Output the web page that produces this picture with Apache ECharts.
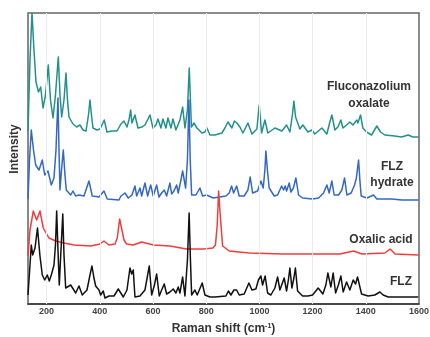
<!DOCTYPE html>
<html>
<head>
<meta charset="utf-8">
<script src="https://cdn.jsdelivr.net/npm/echarts@6/dist/echarts.min.js"></script>
<style>
  html, body { margin: 0; padding: 0; background: #fff; }
  #chart { width: 430px; height: 337px; }
</style>
</head>
<body>
<div id="chart"></div>
<script>
// Raman spectra, stacked with vertical offsets: [wavenumber (cm-1), intensity (a.u.)]
const flzOxalate = [
  [130,173],[137.5,244],[145,291],[152.5,254],[160,222],[169.5,212],[177.7,217],[186.4,196],
  [195.8,209],[206.3,239],[214.6,204],[224,186],[233.3,209],[243.9,247],[250.3,209],[256.6,187],
  [265.3,204],[272.8,231],[278.4,204],[284.1,187],[299.1,180],[313,177],[325.4,179],[336.7,174],
  [348,173],[357.4,189],[363,204],[368.6,189],[374.3,176],[389.3,174],[400.6,175],[416.7,184],
  [426.9,172],[445.7,173],[464.5,173],[479.5,180],[490.8,183],[502.1,177],[509.6,184],[516,194],
  [520.8,181],[532.1,189],[543.4,176],[558.4,177],[569.7,179],[588.5,189],[599.8,176],[611,179],
  [618.5,185],[629.8,176],[637.3,185],[648.6,176],[656.1,186],[667.4,176],[674.9,185],[686.2,174],
  [701.2,184],[711.4,197],[720,176],[729.4,194],[736.2,236],[740.7,204],[744.4,177],[753.8,181],
  [765.1,176],[772.6,178],[783.9,171],[795.2,172],[802.7,176],[814,169],[832.7,169],[859.1,171],
  [870.3,176],[881.6,182],[896.6,176],[906,183],[915.4,181],[926.7,177],[938,171],[956.8,181],
  [971.8,170],[990.6,175],[999.2,199],[1008.2,171],[1020.6,184],[1031.9,171],[1058.2,176],[1084.5,173],
  [1102.2,179],[1114.6,172],[1124,189],[1129.6,203],[1136,187],[1143.5,189],[1152.2,175],[1163.5,179],
  [1182.2,172],[1197.3,174],[1208.5,170],[1234.8,176],[1253.6,170],[1264.9,182],[1272.4,189],[1283.7,174],
  [1295,177],[1306.3,184],[1313.8,176],[1327.7,179],[1340.1,182],[1351.4,179],[1366.4,184],[1370.1,181],
  [1380.3,189],[1388.9,176],[1402.8,172],[1421.6,169],[1441.5,178],[1455.4,172],[1471.6,169],[1509.2,168],
  [1534.3,167],[1559.2,169],[1576.8,167],[1599.3,167]
];

const flzHydrate = [
  [130,105],[135.6,144],[142.4,174],[150.7,154],[158.9,139],[171.3,134],[183.7,144],[192.8,129],
  [205.2,133],[217.6,119],[227.7,126],[235.2,154],[242.7,206],[246.5,154],[250.3,114],[255.9,134],
  [262.7,154],[269,129],[273.9,114],[290.5,109],[299.1,113],[309.3,108],[321.7,109],[340.4,108],
  [359.2,123],[371.6,108],[396.8,107],[415.6,113],[428,105],[472,104],[479.5,108],[494.5,111],
  [506.9,106],[520.8,109],[532.1,118],[538.5,108],[550.9,116],[557.3,108],[569.7,121],[579.8,108],
  [591.1,119],[600.9,108],[613.7,119],[622.3,107],[632.4,111],[642.2,114],[651.2,108],[663.6,121],
  [670,110],[678.7,113],[688.8,119],[694.8,111],[705,124],[711.4,133],[722.6,116],[729.4,144],
  [735,204],[739.9,144],[745.2,109],[761.3,109],[776.4,116],[786.5,108],[801.6,109],[826.4,106],
  [874.1,108],[886.5,111],[895.5,118],[903,111],[914.3,118],[924.1,108],[942.8,108],[956.8,114],
  [965.4,127],[974.4,111],[993.2,113],[1005.6,123],[1014.3,116],[1020.6,134],[1024.4,153],[1030,134],
  [1036.8,116],[1055.6,108],[1068.4,109],[1083.4,118],[1090.9,114],[1096.9,118],[1102.2,113],[1112,121],
  [1118.4,112],[1127.7,116],[1137.1,126],[1147.3,109],[1162.3,106],[1199.9,105],[1222.5,106],[1241.2,111],
  [1253.6,119],[1262.3,111],[1272.4,123],[1281.1,109],[1297.6,109],[1310,114],[1320.2,126],[1328.8,109],
  [1345,111],[1357.7,119],[1364.5,126],[1372.8,144],[1377.7,124],[1382.6,108],[1404,106],[1429.2,109],
  [1441.5,105],[1497.9,105],[1535.5,104],[1598.2,104]
];

const oxalicAcid = [
  [130,48],[137.5,74],[149.9,93],[162.6,84],[175,93],[187.4,76],[208.8,66],[234,63],
  [265.3,61],[302.8,59],[365.6,58],[400.6,60],[415.6,63],[434.4,59],[456.9,60],[465.6,66],
  [474.6,85],[483.2,74],[490.8,64],[500.9,60],[525.7,59],[557.3,62],[600.9,59],[663.6,58],
  [726.4,55],[788.8,55],[825.2,56],[834.7,59],[841.4,79],[846.7,113],[852.7,89],[861.7,58],
  [886.5,53],[961.7,51],[1087.2,50],[1205.9,50],[1302.5,50],[1354,53],[1385.2,50],[1471.6,51],
  [1491.5,55],[1510.3,50],[1598.2,49]
];

const flz = [
  [130,9],[137.5,39],[142.4,59],[147.7,49],[156.3,56],[165.7,76],[175,48],[183.7,29],
  [192.8,24],[202.5,29],[210,23],[217.6,29],[227.7,39],[233.3,59],[237.8,93],[242.7,54],
  [247.6,19],[254,54],[260.8,90],[265.3,49],[271.7,16],[290.5,19],[296.5,21],[309.3,11],
  [321.7,18],[334.1,9],[351.8,14],[363,29],[370.5,38],[378,26],[384.4,18],[396.8,14],
  [403.1,9],[412.9,13],[419.3,6],[434.4,8],[453.2,8],[469.4,15],[488.2,7],[502.1,14],
  [513.3,36],[519.7,30],[525.7,34],[532.1,7],[550.9,8],[569.7,14],[585.9,38],[594.9,9],
  [605.4,19],[613.7,30],[623.5,8],[632.4,14],[642.2,20],[651.2,10],[663.6,12],[676,15],
  [686.2,11],[694.8,17],[701.2,11],[711.4,27],[720,8],[729.4,44],[735.8,91],[740.7,44],
  [745.2,9],[757.6,14],[766.2,9],[785,21],[795.2,9],[814,7],[832.7,7],[874.1,8],
  [883.5,13],[892.9,9],[904.1,14],[914.3,14],[924.1,9],[942.8,10],[960.5,21],[971.8,14],
  [986.8,15],[996.2,24],[1005.6,28],[1012,19],[1021.7,28],[1030.7,11],[1043.1,9],[1058.2,16],
  [1068.4,27],[1077,14],[1093.1,26],[1102.2,13],[1108.9,24],[1114.6,36],[1122.1,16],[1129.6,26],
  [1135.3,36],[1143.5,13],[1162.3,8],[1182.2,8],[1199.9,9],[1220.9,16],[1238.6,10],[1249.9,19],
  [1257.4,31],[1268.7,17],[1277.3,31],[1286.4,11],[1296.9,19],[1306.3,28],[1314.9,12],[1327.7,22],
  [1340.1,14],[1352.5,24],[1361.5,20],[1369,27],[1384,10],[1408.8,8],[1434,9],[1452.8,12],
  [1465.2,9],[1484,7],[1534.3,7],[1597.1,7]
];

const xTicks = [200, 400, 600, 800, 1000, 1200, 1400, 1600];
const seriesNames = ['Fluconazolium oxalate', 'FLZ hydrate', 'Oxalic acid', 'FLZ'];
const seriesLabels = ['Fluconazolium\noxalate', 'FLZ\nhydrate', 'Oxalic acid', 'FLZ'];
const seriesColors = ['#23918b', '#3468c4', '#f23c3c', '#111111'];

const chart = echarts.init(document.getElementById('chart'), null, { renderer: 'canvas' });

const FONT = 'Liberation Sans, Arial, sans-serif';
const labelFont = { fontFamily: FONT, fontWeight: 'bold', fontSize: 12, fill: '#333' };

// light vertical grid lines at the labelled wavenumbers
const gridSeries = {
  type: 'line',
  data: [],
  silent: true,
  z: 1,
  markLine: {
    silent: true,
    symbol: 'none',
    label: { show: false },
    lineStyle: { color: '#ececec', width: 1, type: 'solid' },
    data: xTicks.filter(v => v < 1600).map(v => ({ xAxis: v }))
  }
};

const spectra = [flzOxalate, flzHydrate, oxalicAcid, flz].map((d, i) => ({
  name: seriesNames[i],
  type: 'line',
  data: d,
  showSymbol: false,
  clip: true,
  lineStyle: { color: seriesColors[i], width: 1.5, join: 'round' },
  z: 2 + i
}));

chart.setOption({
  animation: false,
  backgroundColor: '#fff',
  grid: {
    left: 28, right: 11, top: 13, bottom: 33,
    outerBoundsMode: 'none',
    containLabel: false,
    show: true, borderColor: '#666', borderWidth: 1.5, backgroundColor: 'transparent'
  },
  xAxis: {
    type: 'value',
    min: 130, max: 1600,
    name: '{a|Raman shift (cm}{s|-1}{a|)}',
    nameLocation: 'middle',
    nameGap: 19,
    nameTextStyle: {
      rich: {
        a: { fontFamily: FONT, fontWeight: 'bold', fontSize: 12, color: '#333' },
        s: { fontFamily: FONT, fontWeight: 'bold', fontSize: 7, color: '#333', verticalAlign: 'top', lineHeight: 9 }
      }
    },
    axisLine: { show: true, lineStyle: { color: '#333', width: 1.5 } },
    axisTick: { show: false, customValues: xTicks },
    axisLabel: {
      customValues: xTicks,
      formatter: v => String(v),
      margin: 3,
      fontFamily: FONT,
      fontWeight: 'bold', fontSize: 9, color: '#444'
    },
    splitLine: { show: false }
  },
  yAxis: {
    type: 'value',
    min: 0, max: 291,
    axisLine: { show: true, lineStyle: { color: '#888', width: 1.5 } },
    axisTick: { show: false },
    axisLabel: { show: false },
    splitLine: { show: false }
  },
  series: [gridSeries].concat(spectra),
  graphic: [
    { type: 'text', x: 15, y: 149, rotation: Math.PI / 2, z: 10, style: Object.assign({ text: 'Intensity', align: 'center', verticalAlign: 'middle' }, labelFont) },
    { type: 'text', x: 369, y: 95.5, z: 10, style: Object.assign({ text: seriesLabels[0], align: 'center', verticalAlign: 'middle', lineHeight: 17 }, labelFont) },
    { type: 'text', x: 392, y: 175, z: 10, style: Object.assign({ text: seriesLabels[1], align: 'center', verticalAlign: 'middle', lineHeight: 16 }, labelFont) },
    { type: 'text', x: 381, y: 240, z: 10, style: Object.assign({ text: seriesLabels[2], align: 'center', verticalAlign: 'middle' }, labelFont) },
    { type: 'text', x: 401, y: 282, z: 10, style: Object.assign({ text: seriesLabels[3], align: 'center', verticalAlign: 'middle' }, labelFont) }
  ]
});
</script>
</body>
</html>
